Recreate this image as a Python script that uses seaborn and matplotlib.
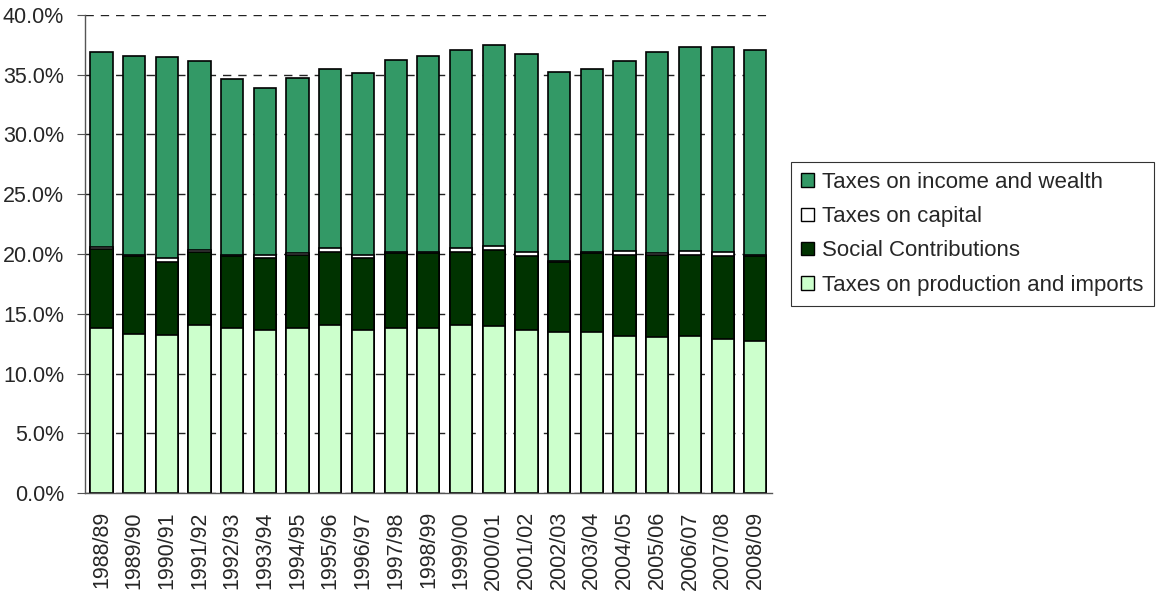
import numpy as np
import pandas as pd
import seaborn as sns
import matplotlib.pyplot as plt
from matplotlib.patches import Patch

# Data (% of GDP)
years = ["1988/89", "1989/90", "1990/91", "1991/92", "1992/93", "1993/94", "1994/95",
         "1995/96", "1996/97", "1997/98", "1998/99", "1999/00", "2000/01", "2001/02",
         "2002/03", "2003/04", "2004/05", "2005/06", "2006/07", "2007/08", "2008/09"]
production = [13.8, 13.35, 13.2, 14.1, 13.8, 13.65, 13.8, 14.1, 13.65, 13.8, 13.8,
              14.1, 13.95, 13.65, 13.45, 13.45, 13.15, 13.05, 13.15, 12.9, 12.7]
social = [6.6, 6.45, 6.15, 6.1, 6.0, 6.0, 6.15, 6.1, 6.0, 6.25, 6.25,
          6.1, 6.4, 6.2, 5.85, 6.6, 6.8, 6.85, 6.8, 6.95, 7.1]
capital = [0.15, 0.15, 0.3, 0.15, 0.15, 0.3, 0.15, 0.3, 0.3, 0.15, 0.15,
           0.3, 0.3, 0.3, 0.15, 0.15, 0.3, 0.15, 0.3, 0.3, 0.15]
income = [16.35, 16.65, 16.8, 15.8, 14.65, 13.9, 14.6, 14.95, 15.2, 16.05, 16.4,
          16.55, 16.85, 16.6, 15.75, 15.3, 15.9, 16.85, 17.1, 17.2, 17.1]

series = ["Taxes on production and imports", "Social Contributions",
          "Taxes on capital", "Taxes on income and wealth"]
colors = ["#CCFFCC", "#003300", "#FFFFFF", "#339966"]

df = pd.DataFrame({"year": years, series[0]: production, series[1]: social,
                   series[2]: capital, series[3]: income})
cum = df[series].cumsum(axis=1)
cum["year"] = df["year"]

sns.set_style("white")
plt.rcParams["font.family"] = ["Liberation Sans", "DejaVu Sans"]
fs = 15.5

fig = plt.figure(figsize=(11.57, 5.97), dpi=100)
ax = fig.add_axes([0.0735, 0.174, 0.5935, 0.801])

# stacked bars: draw tallest cumulative first, shorter ones on top
for name, col in reversed(list(zip(series, colors))):
    sns.barplot(data=cum, x="year", y=name, color=col, edgecolor="black",
                linewidth=1.2, width=0.68, saturation=1, ax=ax, zorder=2)

ax.set_ylim(0, 40)
ax.set_xlim(-0.5, len(years) - 0.5)
ax.set_yticks(np.arange(0, 40.1, 5))
ax.set_yticklabels([f"{v:.1f}%" for v in np.arange(0, 40.1, 5)], fontsize=fs)
ax.set_xticks(range(len(years)))
ax.set_xticklabels(years, rotation=90, fontsize=fs)
ax.set_xticks(np.arange(-0.5, len(years)), minor=True)
ax.tick_params(axis="x", which="major", length=0, pad=13)
ax.tick_params(axis="x", which="minor", length=6, color="#555555", direction="out")
ax.tick_params(axis="y", length=6, color="#555555", direction="out", left=True, pad=9)
ax.set_xlabel("")
ax.set_ylabel("")

ax.yaxis.grid(True, color="#222222", linestyle=(0, (6, 5)), linewidth=1)
ax.set_axisbelow(True)
for s in ["top", "right"]:
    ax.spines[s].set_visible(False)
for s in ["left", "bottom"]:
    ax.spines[s].set_color("#555555")
    ax.spines[s].set_linewidth(1)

handles = [Patch(facecolor=c, edgecolor="black", linewidth=1, label=n)
           for n, c in zip(series, colors)][::-1]
leg = ax.legend(handles=handles, loc="upper left", bbox_to_anchor=(0.684, 0.729),
                bbox_transform=fig.transFigure, borderaxespad=0, fontsize=16,
                handlelength=0.55, handleheight=0.55, handletextpad=0.4,
                labelspacing=0.6, frameon=True, fancybox=False, borderpad=0.45)
leg.get_frame().set_edgecolor("black")
leg.get_frame().set_linewidth(0.8)

fig.savefig("out.png", dpi=100)
